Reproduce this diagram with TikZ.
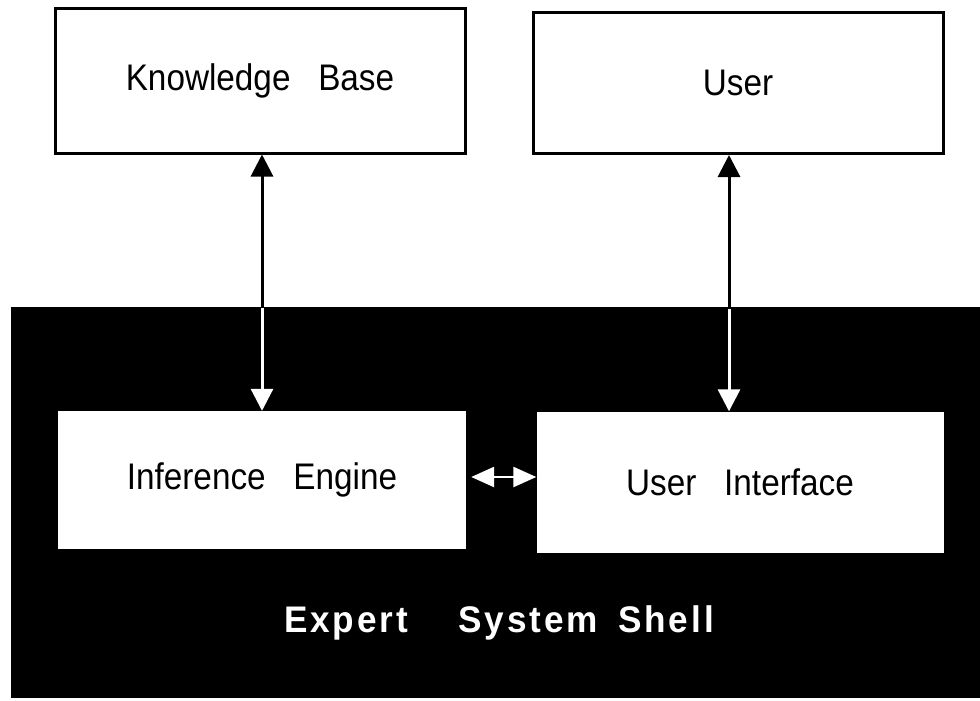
\documentclass[tikz,border=0pt]{standalone}
\usepackage{fontspec}
\setmainfont{Liberation Sans}
\newfontfamily\lblfont[FakeStretch=0.9]{Liberation Sans}
\newfontfamily\shellfont[LetterSpace=8,FakeStretch=0.95]{Liberation Sans}
\usetikzlibrary{arrows.meta}
\begin{document}
\begin{tikzpicture}[x=1pt,y=-1pt,
  outerbox/.style={draw=black,line width=3pt,fill=white,inner sep=0pt,
    font=\lblfont\fontsize{37}{42}\selectfont},
  innerbox/.style={draw=none,fill=white,inner sep=0pt,
    font=\lblfont\fontsize{37}{42}\selectfont},
  blackarrow/.style={draw=black,line width=3pt,
    -{Triangle[length=22pt,width=22pt]}},
  whitearrow/.style={draw=white,line width=3pt,
    -{Triangle[length=22pt,width=22pt]}},
  sidearrow/.style={draw=white,line width=2.5pt,
    {Triangle[length=23pt,width=20pt]}-{Triangle[length=23pt,width=20pt]}}]
  \useasboundingbox (0,0) rectangle (980,701);
  % shell background
  \fill[black] (11,307) rectangle (980,698);
  \node[white,font=\bfseries\shellfont\fontsize{37}{42}\selectfont] (shell) at (499,623)
    {Expert\hspace{50pt}System\hspace{20pt}Shell};
  % boxes
  \node[outerbox,minimum width=410pt,minimum height=144pt] (kb) at (260,81)
    {Knowledge\hspace{0.75em}Base};
  \node[outerbox,minimum width=410pt,minimum height=141pt] (user) at (738,83)
    {User};
  \node[innerbox,minimum width=408pt,minimum height=138pt] (ie) at (262,480)
    {Inference\hspace{0.75em}Engine};
  \node[innerbox,minimum width=407pt,minimum height=141pt] (ui) at (740,482)
    {User\hspace{0.75em}Interface};
  % vertical links cross the shell border
  \coordinate (kbx) at (262,307);
  \coordinate (ux) at (729,308);
  \draw[blackarrow] (kbx) -- (kbx |- kb.south);
  \draw[whitearrow] ([yshift=-0.5pt]kbx) -- (kbx |- ie.north);
  \draw[blackarrow] (ux) -- (ux |- user.south);
  \draw[whitearrow] ([yshift=-0.5pt]ux) -- (ux |- ui.north);
  % horizontal link between engine and interface
  \draw[sidearrow] ([xshift=5pt]ie.east |- 0,477) -- (ui.west |- 0,477);
\end{tikzpicture}
\end{document}
